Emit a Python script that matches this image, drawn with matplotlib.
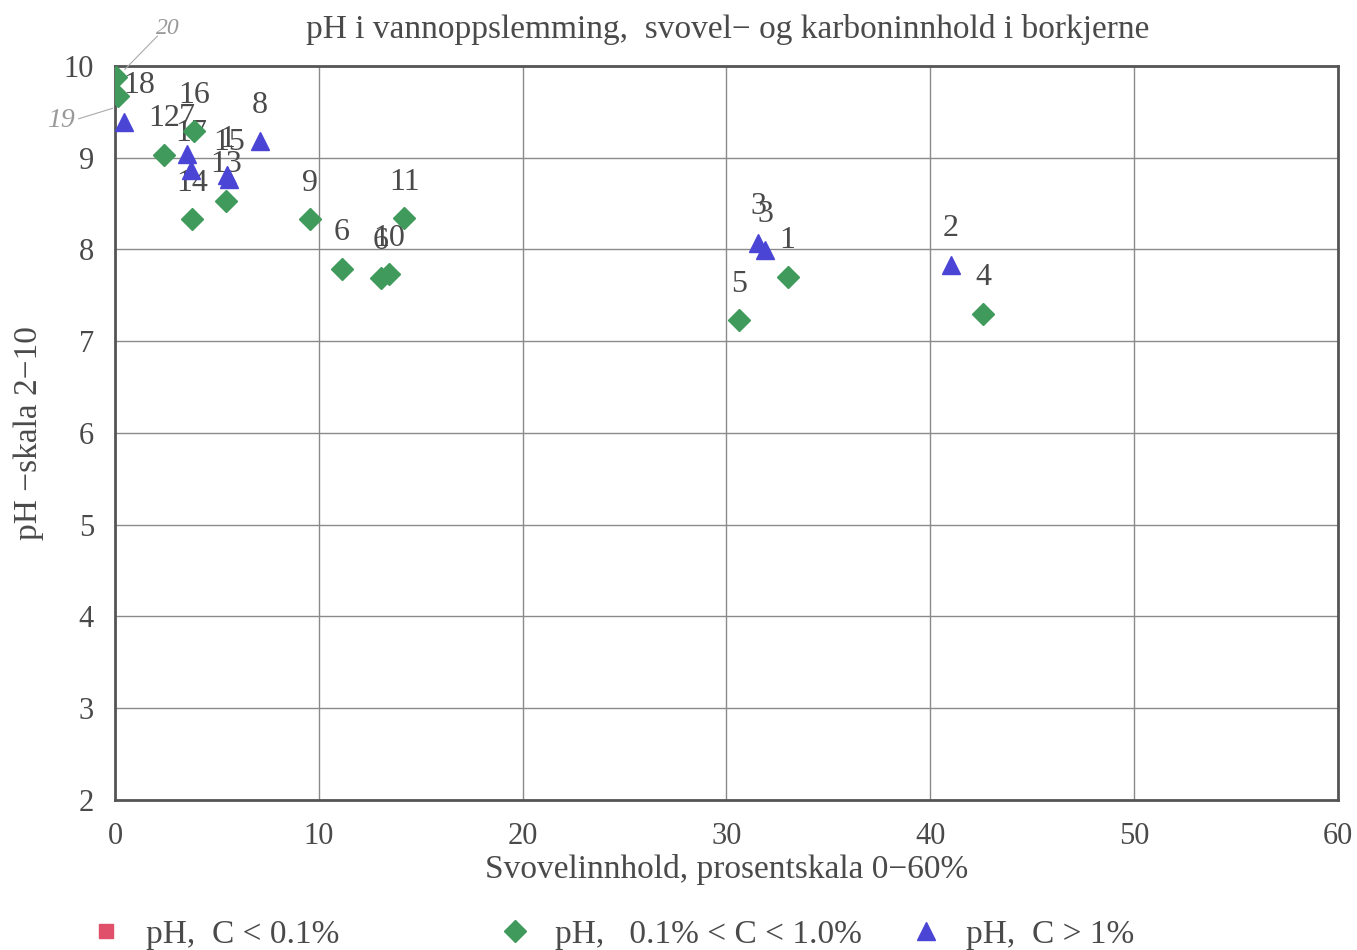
import matplotlib.pyplot as plt
from matplotlib.lines import Line2D

# Grønn: 0.1% < C < 1.0%
green_x = [0.05, 0.15, 2.4, 3.9, 3.8, 5.45, 9.57, 11.14, 13.05, 13.45, 14.2, 30.6, 33.0, 42.6]
green_y = [9.88, 9.67, 9.03, 9.29, 8.33, 8.53, 8.33, 7.79, 7.69, 7.73, 8.34, 7.23, 7.70, 7.30]
green_lab = ["", "18", "12", "16", "14", "13", "9", "6", "6", "10", "11", "5", "1", "4"]

# Blå: C > 1%
blue_x = [0.45, 3.55, 3.75, 5.5, 5.6, 7.1, 31.55, 31.9, 41.0]
blue_y = [9.39, 9.04, 8.87, 8.81, 8.77, 9.18, 8.07, 7.99, 7.83]
blue_lab = ["", "7", "17", "1", "15", "8", "3", "3", "2"]

# Rød: C < 0.1% (ingen punkter)
red_x = []
red_y = []

xticks = [0, 10, 20, 30, 40, 50, 60]
yticks = [2, 3, 4, 5, 6, 7, 8, 9, 10]
legend_labels = ['pH,  C < 0.1%', 'pH,   0.1% < C < 1.0%', 'pH,  C > 1%']

plt.rcParams['font.family'] = ['Liberation Serif', 'DejaVu Serif']
txt = '#4a4a4a'
c_green = '#3f9a5c'
c_blue = '#4b45d6'
c_red = '#e0506a'

fig = plt.figure(figsize=(13.57, 9.5), dpi=100)
ax = fig.add_axes([0.0847, 0.158, 0.9013, 0.7725])

h_red, = ax.plot(red_x, red_y, 's', color=c_red, ms=10, ls='none')
h_green, = ax.plot(green_x, green_y, 'D', color=c_green, ms=11.5, ls='none', zorder=4)
h_blue, = ax.plot(blue_x, blue_y, '^', color=c_blue, ms=13, ls='none', zorder=4)

# etiketter over punktene
special = {("18", 0.15): (15, 8)}
for xs, ys, labs in [(green_x, green_y, green_lab), (blue_x, blue_y, blue_lab)]:
    for x, y, s in zip(xs, ys, labs):
        if not s:
            continue
        off = special.get((s, x), (0, 26))
        ax.annotate(s, (x, y), xytext=off, textcoords='offset points',
                    ha='center', va='center', fontsize=23, color=txt, zorder=3)

ax.set_xlim(0, 60)
ax.set_ylim(2, 10)
ax.set_xticks(xticks)
ax.set_yticks(yticks)
ax.tick_params(labelsize=22, colors=txt, length=0)
ax.tick_params(axis='x', pad=16)
ax.tick_params(axis='y', pad=15)
ax.grid(True, color='#8a8a8a', lw=1)
ax.set_axisbelow(True)
for sp in ax.spines.values():
    sp.set_color('#555555')
    sp.set_linewidth(2)

ax.set_xlabel('Svovelinnhold, prosentskala 0−60%', fontsize=24, color=txt, labelpad=2)
ax.set_ylabel('pH −skala 2−10', fontsize=24, color=txt, labelpad=14)
fig.text(0.536, 0.969, 'pH i vannoppslemming,  svovel− og karboninnhold i borkjerne',
         ha='center', va='center', fontsize=24, color=txt)

# håndskrevne notater
fig.text(0.124, 0.970, '20', fontsize=17, color='#999999', style='italic', ha='center', va='center')
fig.add_artist(Line2D([0.092, 0.116], [0.927, 0.962], color='#aaaaaa', lw=0.8))
fig.text(0.045, 0.873, '19', fontsize=20, color='#999999', style='italic', ha='center', va='center')
fig.add_artist(Line2D([0.058, 0.083], [0.875, 0.886], color='#aaaaaa', lw=0.8))

# forklaring, tre kolonner
for h, lab, xpos in zip([h_red, h_green, h_blue], legend_labels, [0.044, 0.345, 0.648]):
    fig.legend(handles=[h], labels=[lab], loc='center left', bbox_to_anchor=(xpos, 0.016),
               frameon=False, fontsize=24, labelcolor=txt, handletextpad=0.2,
               markerscale=1.0, borderaxespad=0)

fig.savefig('out.png', dpi=100)
